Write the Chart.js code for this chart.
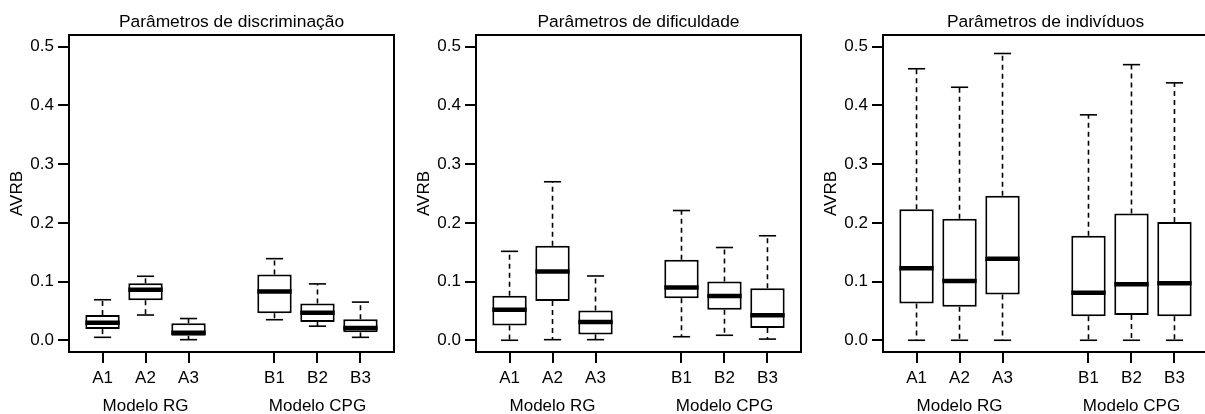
<!DOCTYPE html>
<html lang="pt">
<head>
<meta charset="UTF-8">
<script src="https://cdn.jsdelivr.net/npm/chart.js"></script>
<title>AVRB</title>
<style>
    body { margin: 0; background: #fff; }
    #paineis { position: relative; width: 1205px; height: 414px; overflow: hidden; }
    #paineis canvas { position: absolute; top: 0; }
</style>
</head>
<body>
<div id="paineis">
    <canvas id="disc" width="395" height="414" style="left:0px"></canvas>
    <canvas id="dif" width="395" height="414" style="left:407px"></canvas>
    <canvas id="ind" width="395" height="414" style="left:814px"></canvas>
</div>
<script>
// categorias e posições no eixo (lacuna entre os dois modelos)
const categorias = ['A1', 'A2', 'A3', 'B1', 'B2', 'B3'];
const posicoes = [1, 2, 3, 5, 6, 7];
const grupos = ['Modelo RG', 'Modelo CPG'];
const posGrupos = [2, 6];
const yTicks = [0, 0.1, 0.2, 0.3, 0.4, 0.5];

// discriminação
const discMin = [0.005, 0.043, 0.001, 0.035, 0.024, 0.005];
const discQ1 = [0.019, 0.068, 0.0075, 0.046, 0.031, 0.0135];
const discMed = [0.030, 0.086, 0.013, 0.083, 0.047, 0.021];
const discQ3 = [0.043, 0.097, 0.029, 0.112, 0.0625, 0.036];
const discMax = [0.069, 0.109, 0.037, 0.139, 0.096, 0.065];

// dificuldade
const difMin = [0.000, 0.001, 0.001, 0.006, 0.0085, 0.002];
const difQ1 = [0.025, 0.067, 0.010, 0.0715, 0.052, 0.021];
const difMed = [0.052, 0.117, 0.031, 0.090, 0.0755, 0.0425];
const difQ3 = [0.076, 0.161, 0.0505, 0.137, 0.100, 0.0885];
const difMax = [0.1515, 0.270, 0.1095, 0.221, 0.158, 0.178];

// indivíduos
const indMin = [0, 0, 0, 0, 0, 0];
const indQ1 = [0.0625, 0.057, 0.078, 0.041, 0.043, 0.041];
const indMed = [0.1225, 0.101, 0.139, 0.081, 0.0955, 0.097];
const indQ3 = [0.223, 0.207, 0.246, 0.178, 0.216, 0.2015];
const indMax = [0.4625, 0.431, 0.4885, 0.384, 0.4695, 0.4385];

Chart.defaults.font.family = '"Liberation Sans", Arial, sans-serif';
Chart.defaults.font.size = 17;
Chart.defaults.color = '#000';

function linha(ctx, x1, y1, x2, y2) {
    ctx.beginPath();
    ctx.moveTo(x1, y1);
    ctx.lineTo(x2, y2);
    ctx.stroke();
}

// bigodes, medianas, moldura e textos extras
const boxPlot = {
    id: 'boxPlot',
    beforeDatasetsDraw(chart) {
        const ctx = chart.ctx, y = chart.scales.y;
        const st = chart.data.datasets[0].stats;
        ctx.save();
        ctx.strokeStyle = '#000';
        ctx.lineWidth = 1.6;
        chart.getDatasetMeta(0).data.forEach((bar, i) => {
            const meia = bar.width / 4;
            const pMax = y.getPixelForValue(st.max[i]);
            const pMin = y.getPixelForValue(st.min[i]);
            ctx.setLineDash([5, 4]);
            linha(ctx, bar.x, y.getPixelForValue(st.q3[i]), bar.x, pMax);
            linha(ctx, bar.x, y.getPixelForValue(st.q1[i]), bar.x, pMin);
            ctx.setLineDash([]);
            linha(ctx, bar.x - meia, pMax, bar.x + meia, pMax);
            linha(ctx, bar.x - meia, pMin, bar.x + meia, pMin);
        });
        ctx.restore();
    },
    afterDatasetsDraw(chart) {
        const ctx = chart.ctx, y = chart.scales.y;
        const st = chart.data.datasets[0].stats;
        ctx.save();
        ctx.strokeStyle = '#000';
        ctx.lineWidth = 4.5;
        chart.getDatasetMeta(0).data.forEach((bar, i) => {
            const m = y.getPixelForValue(st.med[i]);
            linha(ctx, bar.x - bar.width / 2, m, bar.x + bar.width / 2, m);
        });
        ctx.restore();
    },
    afterDraw(chart) {
        const ctx = chart.ctx, a = chart.chartArea, x = chart.scales.x;
        ctx.save();
        ctx.strokeStyle = '#000';
        ctx.lineWidth = 2;
        ctx.strokeRect(a.left, a.top, a.right - a.left, a.bottom - a.top);
        ctx.fillStyle = '#000';
        ctx.font = '17.4px "Liberation Sans", Arial, sans-serif';
        ctx.textAlign = 'center';
        ctx.textBaseline = 'alphabetic';
        ctx.fillText(chart.data.datasets[0].titulo, (a.left + a.right) / 2, 26.5);
        ctx.font = '17px "Liberation Sans", Arial, sans-serif';
        grupos.forEach((g, i) => ctx.fillText(g, x.getPixelForValue(posGrupos[i]), 410.5));
        ctx.restore();
    }
};

// sem folga automática nas extremidades dos eixos
function semFolga(s) {
    s.paddingLeft = 0;
    s.paddingRight = 0;
    s.paddingTop = 0;
    s.paddingBottom = 0;
}

function painel(id, titulo, min, q1, med, q3, max) {
    return new Chart(document.getElementById(id), {
        type: 'bar',
        data: {
            datasets: [{
                titulo: titulo,
                stats: { min: min, q1: q1, med: med, q3: q3, max: max },
                data: posicoes.map((p, i) => ({ x: p, y: [q1[i], q3[i]] })),
                backgroundColor: '#fff',
                borderColor: '#000',
                borderWidth: 2,
                borderSkipped: false,
                categoryPercentage: 1,
                barPercentage: 0.8
            }]
        },
        options: {
            responsive: false,
            animation: false,
            devicePixelRatio: 1,
            layout: { padding: { top: 35, right: 1, left: 0, bottom: 0 } },
            plugins: { legend: { display: false }, tooltip: { enabled: false }, title: { display: false } },
            scales: {
                x: {
                    type: 'linear',
                    min: 0.22,
                    max: 7.78,
                    offset: false,
                    afterBuildTicks: s => { s.ticks = posicoes.map(v => ({ value: v })); },
                    afterFit: s => { s.height = 62; semFolga(s); },
                    ticks: {
                        autoSkip: false,
                        maxRotation: 0,
                        padding: 5,
                        callback: v => categorias[posicoes.indexOf(v)]
                    },
                    grid: { offset: false, drawOnChartArea: false, tickLength: 11, lineWidth: 2, color: '#000' },
                    border: { display: false }
                },
                y: {
                    min: -0.02,
                    max: 0.52,
                    afterBuildTicks: s => { s.ticks = yTicks.map(v => ({ value: v })); },
                    afterFit: s => { s.width = 69; semFolga(s); },
                    ticks: { padding: 4, callback: v => v.toFixed(1) },
                    grid: { drawOnChartArea: false, tickLength: 11, lineWidth: 2, color: '#000' },
                    border: { display: false },
                    title: { display: true, text: 'AVRB', padding: { top: 7, bottom: 0 } }
                }
            }
        },
        plugins: [boxPlot]
    });
}

painel('disc', 'Parâmetros de discriminação', discMin, discQ1, discMed, discQ3, discMax);
painel('dif', 'Parâmetros de dificuldade', difMin, difQ1, difMed, difQ3, difMax);
painel('ind', 'Parâmetros de indivíduos', indMin, indQ1, indMed, indQ3, indMax);
</script>
</body>
</html>
